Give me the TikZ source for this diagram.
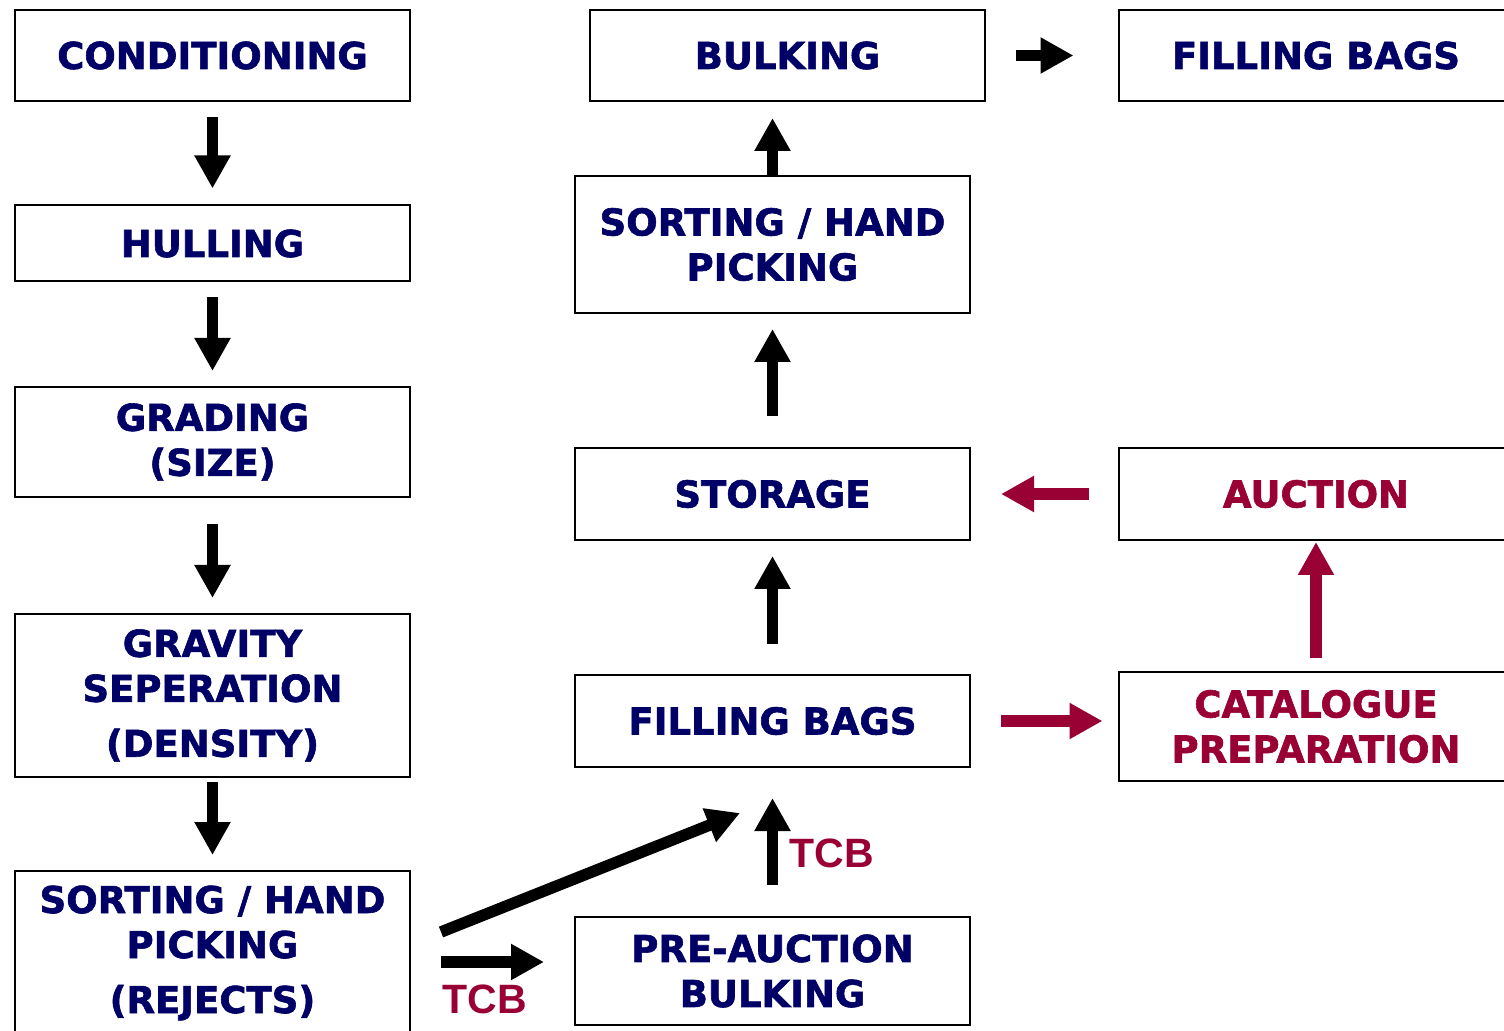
\documentclass[tikz,border=0pt]{standalone}
\usepackage{fontspec}
\newfontfamily\boxfont{DejaVu Sans}[BoldFeatures={FakeBold=1.6}]
\newfontfamily\tcbfont{Liberation Sans}
\usetikzlibrary{arrows.meta}
\definecolor{navy}{RGB}{0,0,102}
\definecolor{crim}{RGB}{153,0,51}
\begin{document}
\begin{tikzpicture}[x=0.5pt,y=-0.5pt,
 box/.style={draw=black, line width=1pt, fill=white, inner sep=0pt, align=center,
   minimum width=197.5pt, text=navy, font=\boxfont\bfseries\fontsize{18.5}{22.5}\selectfont},
 rbox/.style={box, text=crim},
 flow/.style={line width=5.75pt, -{Triangle[width=17pt,length=16.5pt]}},
 bflow/.style={flow, draw=black},
 rflow/.style={flow, draw=crim},
 tcb/.style={text=crim, font=\tcbfont\bfseries\fontsize{20.5}{24}\selectfont, inner sep=0pt}]
\useasboundingbox (0,0) rectangle (1504,1031);
\fill[white] (0,0) rectangle (1504,1031);

% left column
\node[box, minimum height=45.5pt] (cond) at (212.5,55.5) {CONDITIONING};
\node[box, minimum height=38pt] (hull) at (212.5,243.5) {HULLING};
\node[box, minimum height=55pt] (grad) at (212.5,442) {GRADING\\(SIZE)};
\node[box, minimum height=81.5pt] (grav) at (212.5,695.5) {GRAVITY\\SEPERATION\\[5pt](DENSITY)};
\node[box, minimum height=82pt] (sortL) at (212.5,953) {SORTING / HAND\\PICKING\\[5pt](REJECTS)};

% middle column
\node[box, minimum height=45.5pt] (bulk) at (787.5,55.5) {BULKING};
\node[box, minimum height=68.5pt] (sortM) at (772.5,244.5) {SORTING / HAND\\PICKING};
\node[box, minimum height=46pt] (stor) at (772.5,494) {STORAGE};
\node[box, minimum height=46pt] (fillM) at (772.5,721) {FILLING BAGS};
\node[box, minimum height=54pt] (pre) at (772.5,971) {PRE-AUCTION\\BULKING};

% right column
\node[box, minimum height=45.5pt] (fillT) at (1316,55.5) {FILLING BAGS};
\node[rbox, minimum height=46pt] (auct) at (1316,494) {AUCTION};
\node[rbox, minimum height=54.5pt] (cat) at (1316,726.5) {CATALOGUE\\PREPARATION};

% left column arrows
\draw[bflow, shorten <=7.5pt, shorten >=8pt] (cond) -- (hull);
\draw[bflow, shorten <=7.5pt, shorten >=7.5pt] (hull) -- (grad);
\draw[bflow, shorten <=13pt, shorten >=7.5pt] (grad) -- (grav);
\draw[bflow, shorten <=2pt, shorten >=7.5pt] (grav) -- (sortL);

% middle column arrows
\draw[bflow, shorten >=8pt] (sortM.north) -- (sortM.north |- bulk.south);
\draw[bflow, shorten <=15.5pt, shorten >=7.5pt] (stor) -- (sortM);
\draw[bflow, shorten <=15pt, shorten >=7.5pt] (fillM) -- (stor);
\draw[bflow, shorten <=15.5pt, shorten >=15pt] (pre) -- (fillM);
\draw[bflow, shorten <=15pt, shorten >=22pt] (bulk.east) -- (bulk.east -| fillT.west);

% from the rejects box
\draw[bflow] ([shift={(30,-21)}]sortL.east) -- ([shift={(-32.5,45)}]fillM.south);
\draw[bflow] ([shift={(30,9)}]sortL.east) -- ([shift={(-30,-9)}]pre.west);

% red arrows
\draw[rflow, shorten <=14.5pt, shorten >=15pt] (auct.west) -- (auct.west -| stor.east);
\draw[rflow, shorten <=15pt, shorten >=7.5pt] (fillM.east) -- (fillM.east -| cat.west);
\draw[rflow, shorten <=6.5pt, shorten >=0.5pt] (cat.north) -- (cat.north |- auct.south);

% labels
\node[tcb] (tcb1) at (485,999) {TCB};
\node[tcb] (tcb2) at (832,853) {TCB};
\end{tikzpicture}
\end{document}
